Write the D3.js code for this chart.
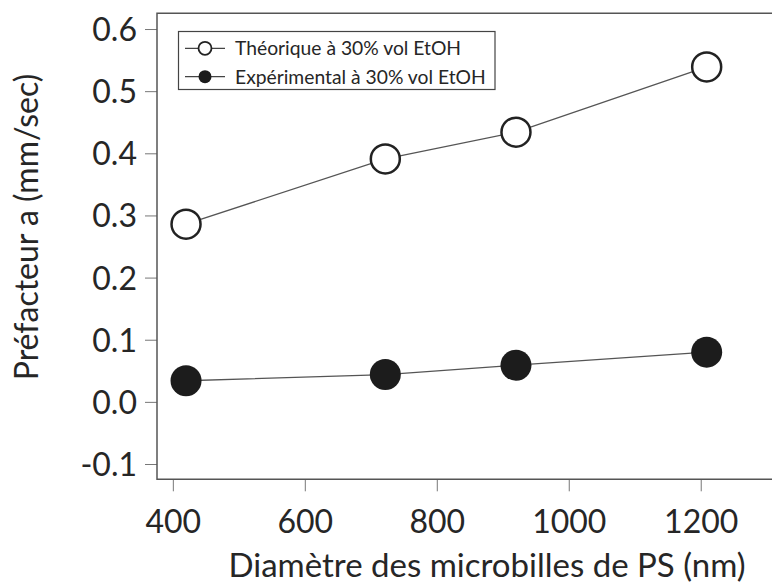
<!DOCTYPE html>
<html><head><meta charset="utf-8">
<script src="https://cdn.jsdelivr.net/npm/d3@7"></script>
<style>
html,body{margin:0;padding:0;background:#fff;}
svg{display:block;}
text{font-family:Lato,"Open Sans",sans-serif;fill:#262626;}
</style></head>
<body>
<svg id="chart" width="772" height="584"></svg>
<script>
const diameters = [420, 722, 920, 1209];
const theoretical = [0.286, 0.391, 0.434, 0.539];
const experimental = [0.034, 0.044, 0.059, 0.080];
const seriesNames = ["Théorique à 30% vol EtOH", "Expérimental à 30% vol EtOH"];
const xTicks = [400, 600, 800, 1000, 1200];
const yTicks = [-0.1, 0.0, 0.1, 0.2, 0.3, 0.4, 0.5, 0.6];
const xTitle = "Diamètre des microbilles de PS (nm)";
const yTitle = "Préfacteur a (mm/sec)";

const svg = d3.select("#chart");
const L = 157, T = 13.3, B = 479.3, R = 772;
const x = d3.scaleLinear().domain([376, 1308]).range([L, R]);
const y = d3.scaleLinear().domain([-0.1246, 0.6253]).range([B, T]);

// axes
const xAxis = d3.axisBottom(x).tickValues(xTicks).tickSize(12).tickFormat(d3.format("d"));
const gx = svg.append("g").attr("transform", `translate(0,${B})`).call(xAxis);
gx.select(".domain").remove();
gx.selectAll(".tick line").attr("stroke", "#777").attr("stroke-width", 1);
gx.selectAll(".tick text").attr("y", 0).attr("dy", 0)
  .attr("transform", "translate(0,54)")
  .style("font-size", "32px").attr("fill", "#262626");

const fmtY = d => d3.format(".1f")(d).replace("\u2212", "-");
const yAxis = d3.axisLeft(y).tickValues(yTicks).tickSize(12).tickFormat(fmtY);
const gy = svg.append("g").attr("transform", `translate(${L},0)`).call(yAxis);
gy.select(".domain").remove();
gy.selectAll(".tick line").attr("stroke", "#777").attr("stroke-width", 1);
gy.selectAll(".tick text").attr("x", -20).attr("dy", "0.36em")
  .style("font-size", "32px").attr("fill", "#262626");

// frame (right side clipped beyond view)
svg.append("path")
  .attr("d", `M${R + 5},${T}H${L}V${B}H${R + 5}`)
  .attr("fill", "none").attr("stroke", "#555").attr("stroke-width", 1.5);

// series
const line = d3.line().x((d, i) => x(diameters[i])).y(d => y(d));
svg.append("path").datum(theoretical).attr("d", line)
  .attr("fill", "none").attr("stroke", "#555").attr("stroke-width", 1.3);
svg.append("path").datum(experimental).attr("d", line)
  .attr("fill", "none").attr("stroke", "#555").attr("stroke-width", 1.3);

svg.selectAll("circle.theo").data(theoretical).join("circle")
  .attr("class", "theo")
  .attr("cx", (d, i) => x(diameters[i])).attr("cy", d => y(d)).attr("r", 14.5)
  .attr("fill", "#fff").attr("stroke", "#222").attr("stroke-width", 2.5);
svg.selectAll("circle.exp").data(experimental).join("circle")
  .attr("class", "exp")
  .attr("cx", (d, i) => x(diameters[i])).attr("cy", d => y(d)).attr("r", 15.5)
  .attr("fill", "#1c1c1c").attr("stroke", "none");

// axis titles
svg.append("text").attr("x", 487).attr("y", 577).attr("text-anchor", "middle")
  .style("font-size", "33px").text(xTitle);
svg.append("text").attr("transform", "translate(38,227) rotate(-90)")
  .attr("text-anchor", "middle").style("font-size", "32px").text(yTitle);

// legend
const lg = svg.append("g");
lg.append("rect").attr("x", 178.5).attr("y", 31.5).attr("width", 316.5).attr("height", 58)
  .attr("fill", "#fff").attr("stroke", "#444").attr("stroke-width", 1.2);
const rows = [48.3, 76.7];
seriesNames.forEach((name, i) => {
  const g = lg.append("g").attr("transform", `translate(0,${rows[i]})`);
  g.append("line").attr("x1", 185).attr("x2", 225).attr("y1", 0).attr("y2", 0)
    .attr("stroke", "#444").attr("stroke-width", 1.3);
  g.append("circle").attr("cx", 205).attr("cy", 0).attr("r", 6.5)
    .attr("fill", i === 0 ? "#fff" : "#1c1c1c")
    .attr("stroke", "#222").attr("stroke-width", i === 0 ? 1.8 : 0);
  g.append("text").attr("x", 235).attr("y", 7).style("font-size", "19.3px").text(name);
});
</script>
</body></html>
